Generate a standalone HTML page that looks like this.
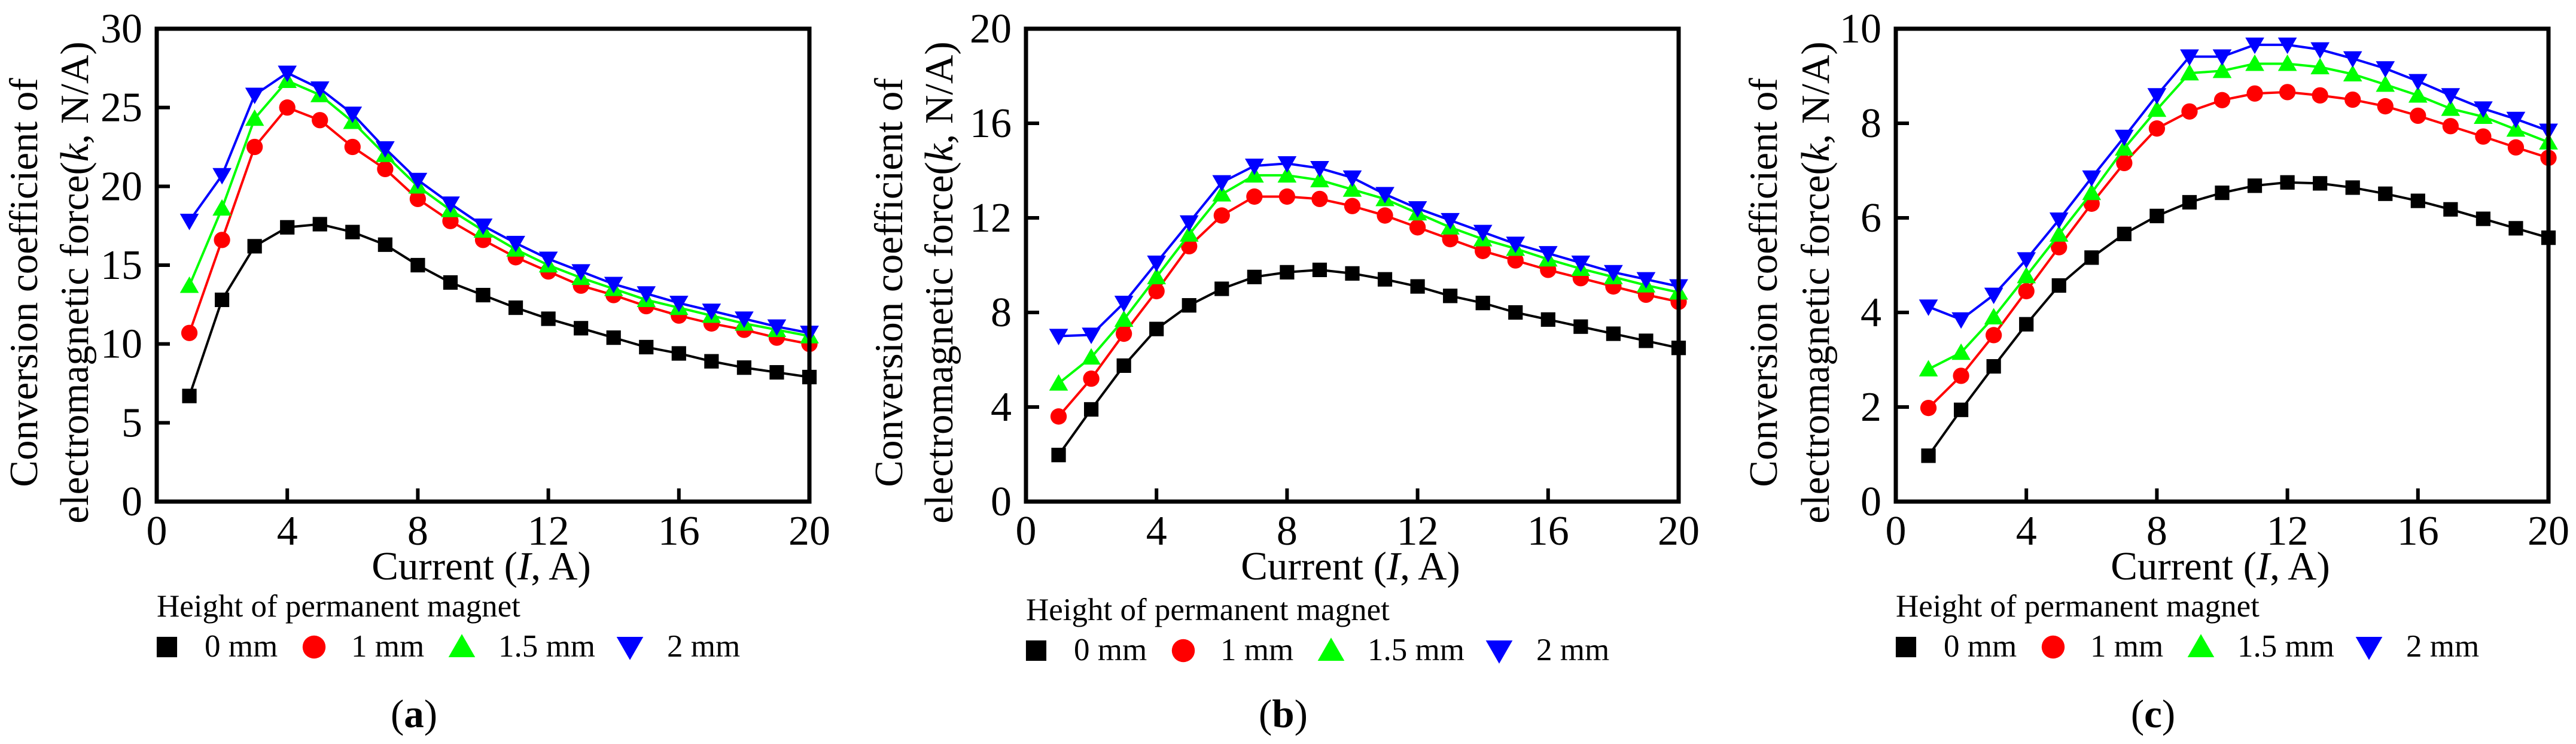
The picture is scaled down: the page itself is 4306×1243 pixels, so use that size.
<!DOCTYPE html>
<html><head><meta charset="utf-8"><style>
html,body{margin:0;padding:0;background:#fff}
svg{display:block}
svg text{font-family:"Liberation Serif",serif}
</style></head><body>
<svg id="fig" width="4306" height="1243" viewBox="0 0 4306 1243" xmlns="http://www.w3.org/2000/svg" font-family="Liberation Serif, serif"></svg>
<script>
const xValues=[1,2,3,4,5,6,7,8,9,10,11,12,13,14,15,16,17,18,19,20];
const xTicks=[0,4,8,12,16,20];
const seriesNames=["0 mm","1 mm","1.5 mm","2 mm"];
const aYTicks=[0,5,10,15,20,25,30];
const a0=[6.7,12.8,16.2,17.4,17.6,17.1,16.3,15.0,13.9,13.1,12.3,11.6,11.0,10.4,9.8,9.4,8.9,8.5,8.2,7.9];
const a1=[10.7,16.6,22.5,25.0,24.2,22.5,21.1,19.2,17.8,16.6,15.5,14.6,13.7,13.1,12.4,11.8,11.3,10.9,10.4,10.0];
const a15=[13.7,18.6,24.3,26.7,25.8,24.1,22.0,20.0,18.5,17.2,16.0,15.0,14.2,13.5,12.8,12.3,11.8,11.3,10.9,10.5];
const a2=[17.8,20.7,25.8,27.2,26.2,24.6,22.4,20.4,18.9,17.5,16.4,15.4,14.6,13.8,13.2,12.6,12.1,11.6,11.1,10.7];
const bYTicks=[0,4,8,12,16,20];
const b0=[1.97,3.9,5.75,7.3,8.3,9.0,9.5,9.7,9.8,9.65,9.4,9.1,8.7,8.4,8.0,7.7,7.4,7.1,6.8,6.5];
const b1=[3.6,5.2,7.1,8.9,10.8,12.1,12.9,12.9,12.8,12.5,12.1,11.6,11.1,10.6,10.2,9.8,9.45,9.1,8.75,8.45];
const b15=[5.0,6.1,7.7,9.5,11.3,13.0,13.8,13.8,13.6,13.2,12.8,12.2,11.6,11.1,10.7,10.25,9.85,9.5,9.15,8.85];
const b2=[7.0,7.05,8.4,10.1,11.8,13.5,14.2,14.3,14.1,13.7,13.0,12.4,11.9,11.4,10.9,10.5,10.1,9.7,9.4,9.1];
const cYTicks=[0,2,4,6,8,10];
const c0=[0.97,1.94,2.86,3.75,4.57,5.16,5.66,6.04,6.33,6.53,6.68,6.75,6.73,6.64,6.51,6.36,6.18,5.98,5.78,5.58];
const c1=[1.98,2.66,3.52,4.45,5.38,6.3,7.16,7.89,8.25,8.49,8.63,8.66,8.59,8.5,8.36,8.16,7.94,7.72,7.49,7.27];
const c15=[2.8,3.15,3.9,4.77,5.65,6.53,7.47,8.29,9.06,9.11,9.26,9.26,9.19,9.04,8.82,8.59,8.31,8.14,7.87,7.6];
const c2=[4.12,3.85,4.37,5.12,5.96,6.85,7.71,8.59,9.41,9.41,9.66,9.66,9.56,9.37,9.16,8.89,8.59,8.31,8.09,7.84];

const NS="http://www.w3.org/2000/svg";
const svg=document.getElementById('fig');
const FF='"Liberation Serif", serif';
function mk(tag,attrs,parent,text){const e=document.createElementNS(NS,tag);for(const k in attrs)e.setAttribute(k,attrs[k]);if(tag==='text'){e.style.fontFamily=FF;}if(text!==undefined)e.textContent=text;(parent||svg).appendChild(e);return e;}
const colors=["#000000","#ff0000","#00ff00","#0000ff"];
function marker(g,type,cx,cy,col,s){
  let e;
  if(type===0){e=mk('rect',{x:cx-s*0.55,y:cy-s*0.55,width:s*1.1,height:s*1.1,fill:col},g);}
  else if(type===1){e=mk('circle',{cx:cx,cy:cy,r:s*0.62,fill:col},g);}
  else if(type===2){e=mk('polygon',{points:`${cx},${cy-s*0.7} ${cx-s*0.72},${cy+s*0.55} ${cx+s*0.72},${cy+s*0.55}`,fill:col},g);}
  else {e=mk('polygon',{points:`${cx},${cy+s*0.7} ${cx-s*0.72},${cy-s*0.55} ${cx+s*0.72},${cy-s*0.55}`,fill:col},g);}
  return e;
}
const panels=[
 {id:'a',left:262,ymax:30,yTicks:aYTicks,series:[a0,a1,a15,a2],t1:-222,t2:-137,legY:0},
 {id:'b',left:1715,ymax:20,yTicks:bYTicks,series:[b0,b1,b15,b2],t1:-229,t2:-145,legY:6},
 {id:'c',left:3169,ymax:10,yTicks:cYTicks,series:[c0,c1,c15,c2],t1:-221,t2:-134,legY:0}
];
const TOP=48,BOT=838,W=1091;
panels.forEach(p=>{
  const g=mk('g',{});
  
  
  const L=p.left;
  const xs=v=>L+v/20*W;
  const ys=v=>BOT-v/p.ymax*(BOT-TOP);
  p.series.forEach((arr,si)=>{
    const sg=mk('g',{},g);
    
    
    const pts=arr.map((v,i)=>xs(xValues[i])+','+ys(v)).join(' ');
    const pl=mk('polyline',{points:pts,fill:'none',stroke:colors[si],'stroke-width':4,'stroke-linejoin':'round'},sg);
    
    
    arr.forEach((v,i)=>{
      const m=marker(sg,si,xs(xValues[i]),ys(v),colors[si],22);
      
      
    });
  });
  const fr=mk('rect',{x:L,y:TOP,width:W,height:BOT-TOP,fill:'none',stroke:'#000','stroke-width':7},g);
  
  
  xTicks.forEach(t=>{
    const x=xs(t);
    mk('line',{x1:x,y1:BOT,x2:x,y2:BOT-22,stroke:'#000','stroke-width':6},g);
    const tl=mk('text',{x:x,y:910,'font-size':70,'text-anchor':'middle'},g,String(t));
    
    
  });
  p.yTicks.forEach(t=>{
    const y=ys(t);
    mk('line',{x1:L,y1:y,x2:L+22,y2:y,stroke:'#000','stroke-width':6},g);
    const tl=mk('text',{x:L-24,y:y+23,'font-size':70,'text-anchor':'end'},g,String(t));
    
    
  });
  const xt=mk('text',{x:L+W/2-3,y:968,'font-size':67,'text-anchor':'middle'},g);
  
  
  mk('tspan',{},xt,'Current (');mk('tspan',{'font-style':'italic'},xt,'I');mk('tspan',{},xt,', A)');
  const cy=472;
  const y1=mk('text',{x:0,y:0,'font-size':67,'text-anchor':'middle','dominant-baseline':'central',transform:`translate(${L+p.t1},${cy}) rotate(-90)`},g,'Conversion coefficient of');
  
  
  const y2=mk('text',{x:0,y:0,'font-size':67,'text-anchor':'middle','dominant-baseline':'central',transform:`translate(${L+p.t2},${cy}) rotate(-90)`},g);
  
  
  mk('tspan',{},y2,'electromagnetic force(');mk('tspan',{'font-style':'italic'},y2,'k');mk('tspan',{},y2,', N/A)');
  const lg=mk('g',{},g);
  
  
  const lt=mk('text',{x:L,y:1030+p.legY,'font-size':53},lg,'Height of permanent magnet');
  
  
  const mx=[17,263,510,791],tx=[80,325,571,853];
  seriesNames.forEach((n,i)=>{
    const eg=mk('g',{},lg);
    
    
    marker(eg,i,L+mx[i],1081+p.legY,colors[i],31);
    mk('text',{x:L+tx[i],y:1097+p.legY,'font-size':53},eg,n);
  });
  const cap=mk('text',{x:L+430,y:1215,'font-size':67,'text-anchor':'middle'},g);
  
  
  mk('tspan',{},cap,'(');mk('tspan',{'font-weight':'bold'},cap,p.id);mk('tspan',{},cap,')');
});
</script>
</body></html>
